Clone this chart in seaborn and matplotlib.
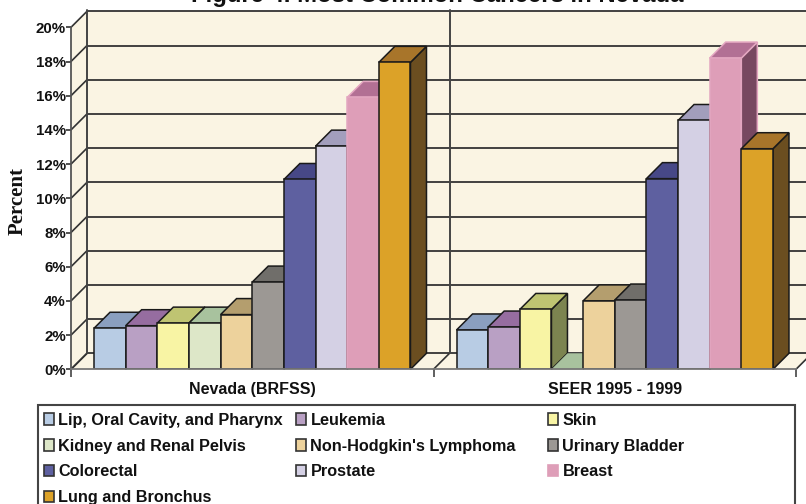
import matplotlib
matplotlib.use('Agg')
import matplotlib.pyplot as plt
from matplotlib.patches import Patch, Polygon, Rectangle
import pandas as pd
import seaborn as sns

# Values
sources = ['Nevada (BRFSS)', 'SEER 1995 - 1999']
sites = ['Lip, Oral Cavity, and Pharynx', 'Leukemia', 'Skin', 'Kidney and Renal Pelvis',
         "Non-Hodgkin's Lymphoma", 'Urinary Bladder', 'Colorectal', 'Prostate', 'Breast',
         'Lung and Bronchus']
nevada = [2.4, 2.55, 2.7, 2.7, 3.2, 5.1, 11.1, 13.05, 15.9, 17.95]
seer = [2.3, 2.47, 3.5, 0, 4.0, 4.05, 11.15, 14.55, 18.2, 12.9]

yticks = list(range(0, 21, 2))

front_colors = ['#B8CCE4', '#B9A0C4', '#F8F4A4', '#DDE7C8', '#EDD29C',
                '#9C9894', '#5E60A0', '#D4D0E4', '#DE9EB8', '#DCA228']
top_colors = ['#8A9FBF', '#966DA0', '#BFC472', '#A8C29E', '#B49E6E',
              '#706E6A', '#474887', '#A29EBC', '#B27094', '#A8752A']
side_colors = ['#5F7390', '#6B4C75', '#7C8450', '#748A6C', '#7F6F4C',
               '#4F4D4A', '#313265', '#6F6C8A', '#774860', '#6B4E20']
edge_colors = ['#1A1A1A'] * 8 + ['#E3A6C0', '#1A1A1A']

WALL = '#FAF4E3'
LINE = '#333333'
W, H = 806, 504

df = pd.DataFrame({
    'source': [s for s in sources for _ in sites],
    'site': sites * 2,
    'percent': nevada + seer,
})

sns.set_style('white')
plt.rcParams['font.family'] = ['Liberation Sans', 'DejaVu Sans']

fig = plt.figure(figsize=(W / 100, H / 100), dpi=100)
ax = fig.add_axes([71 / W, 1 - 369.3 / H, 725 / W, 342 / H])
ax.patch.set_visible(False)

sns.barplot(data=df, x='source', y='percent', hue='site', hue_order=sites,
            palette=front_colors, width=0.873, gap=0, saturation=1, legend=False, ax=ax)

ax.set_xlim(-0.5, 1.5)
ax.set_ylim(0, 20)

# depth of the fake 3D box, 16 px each way
dx = 16 / 362.5
dy = 16 / 17.1

# walls and floor
ax.add_patch(Polygon([(-0.5, 0), (-0.5 + dx, dy), (-0.5 + dx, 20 + dy), (-0.5, 20)],
                     fc=WALL, ec='none', clip_on=False, zorder=0))
ax.add_patch(Polygon([(-0.5 + dx, 0 + dy), (1.5 + dx, dy), (1.5 + dx, 20 + dy), (-0.5 + dx, 20 + dy)],
                     fc=WALL, ec='none', clip_on=False, zorder=0))
ax.add_patch(Polygon([(-0.5, 0), (1.5, 0), (1.5 + dx, dy), (-0.5 + dx, dy)],
                     fc=WALL, ec='none', clip_on=False, zorder=0))

for v in yticks:
    ax.plot([-0.5 + dx, 1.5 + dx], [v + dy, v + dy], color=LINE, lw=1.3, clip_on=False, zorder=1)
    ax.plot([-0.5, -0.5 + dx], [v, v + dy], color=LINE, lw=1.2, clip_on=False, zorder=1)
for x in [-0.5, 0.5, 1.5]:
    ax.plot([x, x + dx], [0, dy], color=LINE, lw=1.2, clip_on=False, zorder=1)
for x in [-0.5, 0.5]:
    ax.plot([x + dx, x + dx], [dy, 20 + dy + 0.1], color='#444444', lw=1.4, clip_on=False, zorder=1)

# side and top faces, left to right so each bar hides the one before it
for i, container in enumerate(ax.containers):
    z = 3 + i
    for bar in container:
        x0 = bar.get_x()
        x1 = x0 + bar.get_width()
        h = bar.get_height()
        ec = edge_colors[i]
        ax.add_patch(Polygon([(x1, 0), (x1 + dx, dy), (x1 + dx, h + dy), (x1, h)],
                             fc=side_colors[i], ec=ec, lw=1.1, zorder=z, clip_on=False))
        ax.add_patch(Polygon([(x0, h), (x0 + dx, h + dy), (x1 + dx, h + dy), (x1, h)],
                             fc=top_colors[i], ec=ec if h > 0 else 'none', lw=1.1, zorder=z, clip_on=False))
        bar.set_edgecolor(ec)
        bar.set_linewidth(1.1)
        bar.set_zorder(z + 0.5)
        if h == 0:
            bar.set_visible(False)

sns.despine(ax=ax, top=True, right=True)
ax.spines['left'].set_color('#555555')
ax.spines['left'].set_linewidth(1.3)
ax.spines['bottom'].set_color('#777777')
ax.spines['bottom'].set_linewidth(1.3)
ax.spines['bottom'].set_zorder(30)

ax.set_yticks(yticks)
ax.set_yticklabels([f'{v}%' for v in yticks], fontweight='bold', fontsize=10.8, color='#111111')
ax.tick_params(axis='y', length=3.6, width=1.2, color='#333333', pad=0, left=True)
ax.set_xticks([0, 1])
ax.set_xticklabels(sources, fontweight='bold', fontsize=11.5, color='#111111')
ax.set_xticks([-0.5, 0.5, 1.5], minor=True)
ax.tick_params(axis='x', which='major', length=0, pad=9.5)
ax.tick_params(axis='x', which='minor', length=5.5, width=1.2, color='#444444', bottom=True)
ax.set_xlabel('')
ax.set_ylabel('')

fig.text(17.5 / W, 1 - 201 / H, 'Percent', rotation=90, ha='center', va='center',
         family='Liberation Serif', fontweight='bold', fontsize=15, color='#111111')
fig.text(437 / W, 1 - 2 / H, 'Figure 4. Most Common Cancers in Nevada', ha='center', va='baseline',
         fontweight='bold', fontsize=17.2, color='#111111')

# legend box runs off the bottom of the page, columns are evenly spaced
fig.add_artist(Rectangle((38 / W, -0.02), 757 / W, 1 - 404.5 / H + 0.02, transform=fig.transFigure,
                         fc='white', ec='#444444', lw=1.5))
columns = [(0, 3, 6, 9), (1, 4, 7), (2, 5, 8)]
for col, members in zip([38.5, 290.5, 542.5], columns):
    handles = [Patch(fc=front_colors[m], ec='#333333' if m != 8 else front_colors[m], lw=1.2) for m in members]
    leg = fig.legend(handles, [sites[m] for m in members], loc='upper left',
                     bbox_to_anchor=(col / W, 1 - 407 / H), frameon=False, ncol=1,
                     prop={'weight': 'bold', 'size': 11.7}, handlelength=0.58, handleheight=0.7,
                     handletextpad=0.3, labelspacing=0.67, borderaxespad=0, borderpad=0.35)
    for t in leg.get_texts():
        t.set_color('#111111')

fig.savefig('out.png', dpi=100)
